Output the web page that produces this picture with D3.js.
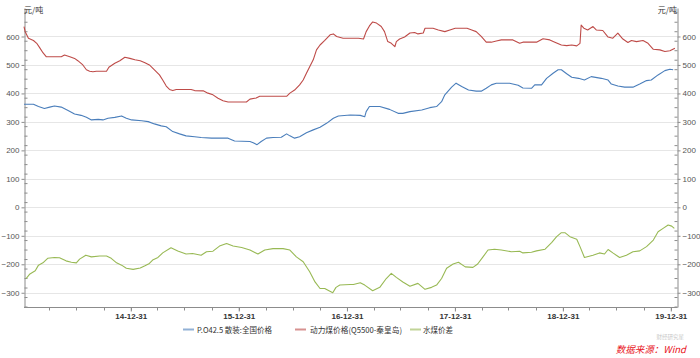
<!DOCTYPE html>
<html>
<head>
<meta charset="utf-8">
<script src="https://cdn.jsdelivr.net/npm/d3@7"></script>
<style>
  html, body { margin: 0; padding: 0; background: #ffffff; }
  svg { display: block; font-family: "Noto Sans CJK SC", "Liberation Sans", sans-serif; }
</style>
</head>
<body>
<svg id="chart" width="700" height="358"></svg>
<script>
// ---------- data ----------
const seriesNames = ["P.O42.5 散装:全国价格", "动力煤价格(Q5500-秦皇岛)", "水煤价差"];

const cementData = [
["2014-01-04",362],["2014-02-05",362],["2014-02-22",354],["2014-03-14",347],["2014-04-01",352],["2014-04-17",356],
["2014-05-10",352],["2014-06-02",340],["2014-06-24",328],["2014-07-16",323],["2014-08-03",316],["2014-08-20",307],
["2014-09-12",309],["2014-09-28",307],["2014-10-15",313],["2014-11-07",316],["2014-11-30",321],["2014-12-16",313],
["2015-01-03",307],["2015-02-06",304],["2015-02-28",301],["2015-03-21",293],["2015-04-13",286],["2015-04-30",283],
["2015-05-22",266],["2015-06-14",258],["2015-07-06",251],["2015-08-04",248],["2015-08-26",245],["2015-09-30",243],
["2015-11-25",243],["2015-12-17",233],["2016-02-07",231],["2016-02-18",227],["2016-03-02",220],["2016-03-16",231],
["2016-04-03",243],["2016-04-25",245],["2016-05-23",246],["2016-06-10",258],["2016-06-21",251],["2016-07-07",243],
["2016-07-24",248],["2016-08-16",262],["2016-09-08",272],["2016-10-01",281],["2016-10-23",295],["2016-11-15",313],
["2016-12-02",321],["2017-01-11",324],["2017-02-14",323],["2017-03-01",318],["2017-03-06",336],["2017-03-17",354],
["2017-04-21",354],["2017-05-24",344],["2017-06-22",330],["2017-07-08",330],["2017-08-01",336],["2017-09-10",342],
["2017-10-07",350],["2017-10-30",354],["2017-11-16",371],["2017-11-27",395],["2017-12-20",422],["2018-01-04",436],
["2018-01-23",424],["2018-02-15",412],["2018-03-13",408],["2018-03-30",408],["2018-04-16",418],["2018-05-03",430],
["2018-05-20",436],["2018-07-04",436],["2018-08-02",429],["2018-08-18",419],["2018-09-16",418],["2018-09-27",430],
["2018-10-20",430],["2018-11-06",453],["2018-11-28",471],["2018-12-15",483],["2018-12-26",483],["2019-01-13",469],
["2019-01-30",457],["2019-02-22",453],["2019-03-14",447],["2019-04-06",459],["2019-05-10",453],["2019-06-02",447],
["2019-06-13",433],["2019-07-05",426],["2019-07-28",422],["2019-08-25",422],["2019-09-17",433],["2019-10-10",445],
["2019-10-26",447],["2019-11-18",465],["2019-12-11",480],["2019-12-28",485],["2020-01-08",483]
];

const coalData = [
["2014-01-04",635],["2014-01-08",617],["2014-01-19",594],["2014-02-05",586],["2014-02-16",576],["2014-02-27",559],
["2014-03-09",543],["2014-03-20",529],["2014-05-10",529],["2014-05-21",535],["2014-06-08",529],["2014-06-24",523],
["2014-07-05",515],["2014-07-22",500],["2014-08-03",483],["2014-08-14",478],["2014-08-25",476],["2014-09-06",478],
["2014-10-10",478],["2014-10-18",492],["2014-11-07",506],["2014-11-24",515],["2014-12-11",527],["2014-12-28",523],
["2015-01-14",518],["2015-02-01",515],["2015-02-17",508],["2015-03-04",500],["2015-03-21",483],["2015-04-07",465],
["2015-04-18",447],["2015-04-30",426],["2015-05-11",414],["2015-05-22",410],["2015-06-03",414],["2015-07-23",414],
["2015-08-04",410],["2015-09-02",409],["2015-09-18",401],["2015-10-05",395],["2015-10-22",383],["2015-11-08",374],
["2015-11-25",370],["2016-01-26",370],["2016-02-07",380],["2016-02-28",384],["2016-03-11",390],["2016-06-10",390],
["2016-06-21",401],["2016-07-07",412],["2016-07-24",430],["2016-08-05",447],["2016-08-16",471],["2016-08-27",494],
["2016-09-08",518],["2016-09-19",553],["2016-10-01",570],["2016-10-17",586],["2016-11-04",606],["2016-11-15",609],
["2016-11-26",600],["2016-12-18",594],["2017-01-11",594],["2017-02-08",594],["2017-02-25",591],["2017-03-06",617],
["2017-03-17",637],["2017-03-28",651],["2017-04-10",647],["2017-04-26",635],["2017-05-07",617],["2017-05-18",582],
["2017-05-30",576],["2017-06-11",564],["2017-06-16",582],["2017-06-27",591],["2017-07-14",598],["2017-08-01",612],
["2017-08-17",614],["2017-08-28",609],["2017-09-15",612],["2017-09-21",629],["2017-10-18",629],["2017-11-05",623],
["2017-11-27",617],["2017-12-14",623],["2018-01-01",629],["2018-02-10",629],["2018-02-26",623],["2018-03-13",617],
["2018-03-30",600],["2018-04-16",580],["2018-05-03",580],["2018-05-20",584],["2018-06-06",588],["2018-07-15",588],
["2018-08-07",576],["2018-08-18",580],["2018-10-03",580],["2018-10-25",592],["2018-11-17",588],["2018-12-04",580],
["2018-12-26",570],["2019-01-13",568],["2019-01-30",570],["2019-02-16",567],["2019-02-27",576],["2019-03-03",640],
["2019-03-12",629],["2019-03-25",623],["2019-04-12",635],["2019-04-23",623],["2019-05-15",621],["2019-06-02",598],
["2019-06-18",594],["2019-07-05",612],["2019-07-22",591],["2019-08-08",579],["2019-08-20",586],["2019-09-06",582],
["2019-09-28",586],["2019-10-15",576],["2019-11-02",555],["2019-11-24",553],["2019-12-11",547],["2019-12-28",550],
["2020-01-14",559]
];

const spreadData = [
["2014-01-11",-250],["2014-01-24",-234],["2014-02-11",-223],["2014-02-22",-203],["2014-03-09",-195],["2014-03-25",-179],
["2014-04-17",-176],["2014-05-04",-177],["2014-05-26",-188],["2014-06-13",-193],["2014-06-30",-195],["2014-07-11",-182],
["2014-08-01",-168],["2014-08-20",-174],["2014-09-17",-171],["2014-10-10",-171],["2014-10-26",-179],["2014-11-13",-195],
["2014-11-30",-203],["2014-12-16",-214],["2015-01-08",-218],["2015-02-01",-213],["2015-02-17",-205],["2015-03-04",-197],
["2015-03-15",-185],["2015-04-02",-176],["2015-04-18",-160],["2015-05-16",-142],["2015-06-08",-153],["2015-07-06",-164],
["2015-07-28",-162],["2015-08-26",-168],["2015-09-13",-156],["2015-10-05",-154],["2015-10-27",-136],["2015-11-20",-127],
["2015-12-12",-136],["2016-01-10",-141],["2016-02-07",-150],["2016-03-05",-164],["2016-03-28",-150],["2016-04-25",-145],
["2016-05-29",-145],["2016-06-21",-150],["2016-07-13",-174],["2016-08-05",-191],["2016-08-27",-226],["2016-09-14",-262],
["2016-10-01",-285],["2016-10-17",-285],["2016-10-28",-291],["2016-11-13",-300],["2016-11-24",-281],["2016-12-07",-273],
["2017-01-11",-271],["2017-01-22",-271],["2017-02-14",-265],["2017-03-01",-273],["2017-03-28",-293],["2017-04-21",-281],
["2017-05-13",-250],["2017-05-30",-232],["2017-06-16",-246],["2017-07-08",-262],["2017-08-01",-277],["2017-08-28",-267],
["2017-09-21",-288],["2017-10-13",-281],["2017-10-30",-273],["2017-11-16",-250],["2017-12-03",-214],["2017-12-25",-199],
["2018-01-12",-193],["2018-02-04",-209],["2018-03-02",-211],["2018-03-18",-199],["2018-04-05",-174],["2018-04-22",-150],
["2018-05-14",-147],["2018-06-06",-150],["2018-07-10",-156],["2018-08-07",-154],["2018-08-18",-160],["2018-09-16",-158],
["2018-10-03",-153],["2018-11-01",-147],["2018-11-23",-124],["2018-12-10",-103],["2018-12-26",-89],["2019-01-07",-89],
["2019-01-24",-103],["2019-02-16",-112],["2019-02-27",-138],["2019-03-14",-176],["2019-04-12",-168],["2019-05-04",-160],
["2019-05-21",-164],["2019-06-02",-148],["2019-06-18",-160],["2019-07-11",-176],["2019-08-03",-168],["2019-08-25",-156],
["2019-09-17",-153],["2019-10-10",-138],["2019-11-02",-115],["2019-11-18",-86],["2019-12-05",-74],["2019-12-22",-62],
["2020-01-03",-66],["2020-01-12",-74]
];

const xTickDates = ["2014-12-31","2015-12-31","2016-12-31","2017-12-31","2018-12-31","2019-12-31"];
const xTickLabels = ["14-12-31","15-12-31","16-12-31","17-12-31","18-12-31","19-12-31"];
const yTicks = [-300,-200,-100,0,100,200,300,400,500,600];
const yDomain = [-350, 700];
const xDomain = ["2014-01-04","2020-01-21"];
const unitLabel = "元/吨";
const sourceLabel = "数据来源：Wind";
const watermark = "财经研究星";

// ---------- drawing ----------
const parse = d3.timeParse("%Y-%m-%d");
const svg = d3.select("#chart");
const L = 24, R = 677, T = 8, B = 307;
const colors = ["#4a7ebb", "#be4b48", "#98b954"];

const x = d3.scaleTime().domain(xDomain.map(parse)).range([L, R]);
const y = d3.scaleLinear().domain(yDomain).range([B, T]);

// gridlines
svg.append("g").selectAll("line").data(yTicks).join("line")
  .attr("x1", L).attr("x2", R)
  .attr("y1", d => Math.round(y(d)) + 0.5).attr("y2", d => Math.round(y(d)) + 0.5)
  .attr("stroke", "#e6e6e6").attr("stroke-width", 1);

// minor y ticks (every 1/3 of 100)
const minorY = d3.range(-350, 700.01, 100/3).filter(v => v >= yDomain[0] && v <= yDomain[1]);

function styleAxis(g) {
  g.select(".domain").attr("stroke", "#8c8c8c");
  g.selectAll(".tick line").attr("stroke", "#8c8c8c");
  g.selectAll(".tick text").attr("fill", "#555").attr("font-size", "8px");
}

const leftAxis = svg.append("g").attr("transform", `translate(${L + 0.5},0)`)
  .call(d3.axisLeft(y).tickValues(yTicks).tickSize(3).tickSizeOuter(0).tickPadding(2));
styleAxis(leftAxis);
leftAxis.selectAll(".minor").data(minorY).join("line").attr("class", "minor")
  .attr("x1", 0).attr("x2", 3).attr("y1", d => y(d)).attr("y2", d => y(d)).attr("stroke", "#8c8c8c");

const rightAxis = svg.append("g").attr("transform", `translate(${R + 0.5},0)`)
  .call(d3.axisRight(y).tickValues(yTicks).tickSize(3).tickSizeOuter(0).tickPadding(2));
styleAxis(rightAxis);
rightAxis.selectAll(".minor").data(minorY).join("line").attr("class", "minor")
  .attr("x1", 0).attr("x2", -3).attr("y1", d => y(d)).attr("y2", d => y(d)).attr("stroke", "#8c8c8c");

// x axis
const quarterTicks = d3.timeMonth.every(3).range(x.domain()[0], x.domain()[1])
  .map(d => d3.timeDay.offset(d, -1)).filter(d => d >= x.domain()[0]);
const xAxisG = svg.append("g").attr("transform", `translate(0,${B + 0.5})`);
xAxisG.append("line").attr("x1", L).attr("x2", R + 0.5).attr("stroke", "#8c8c8c");
xAxisG.selectAll(".qt").data(quarterTicks).join("line").attr("class", "qt")
  .attr("x1", d => Math.round(x(d)) + 0.5).attr("x2", d => Math.round(x(d)) + 0.5)
  .attr("y1", 0).attr("y2", 3).attr("stroke", "#8c8c8c");
const majorAxis = d3.axisBottom(x).tickValues(xTickDates.map(parse))
  .tickFormat((d, i) => xTickLabels[i]).tickSize(4).tickSizeOuter(0).tickPadding(2);
const xg = svg.append("g").attr("transform", `translate(0,${B + 0.5})`).call(majorAxis);
xg.select(".domain").remove();
xg.selectAll(".tick line").attr("stroke", "#8c8c8c");
xg.selectAll(".tick text").attr("fill", "#333").attr("font-size", "8px").attr("font-weight", "bold");

// unit labels
svg.append("text").attr("x", L).attr("y", 13).attr("font-size", "8px").attr("fill", "#333").text(unitLabel);
svg.append("text").attr("x", R).attr("y", 13).attr("text-anchor", "end").attr("font-size", "8px").attr("fill", "#333").text(unitLabel);

// lines
const line = d3.line().x(d => x(parse(d[0]))).y(d => y(d[1]));
[cementData, coalData, spreadData].forEach((data, i) => {
  svg.append("path").datum(data).attr("d", line)
    .attr("fill", "none").attr("stroke", colors[i]).attr("stroke-width", 1.1)
    .attr("stroke-linejoin", "round");
});

// legend
const legendPos = [[183, 197, 75], [295, 310, 92], [410, 423, 30]];
const lg = svg.append("g");
seriesNames.forEach((name, i) => {
  lg.append("line").attr("x1", legendPos[i][0]).attr("x2", legendPos[i][0] + 11)
    .attr("y1", 329.5).attr("y2", 329.5).attr("stroke", colors[i]).attr("stroke-width", 2).attr("opacity", 0.6);
  lg.append("text").attr("x", legendPos[i][1]).attr("y", 332.5).attr("font-size", "8px").attr("fill", "#333")
    .attr("textLength", legendPos[i][2]).attr("lengthAdjust", "spacingAndGlyphs").text(name);
});

// source
svg.append("text").attr("x", 684).attr("y", 339).attr("text-anchor", "end")
  .attr("font-size", "5.5px").attr("fill", "#c8c8c8").text(watermark);
svg.append("text").attr("x", 686).attr("y", 353).attr("text-anchor", "end")
  .attr("font-size", "9.5px").attr("font-style", "italic").attr("fill", "#e8141c").text(sourceLabel);
</script>
</body>
</html>
